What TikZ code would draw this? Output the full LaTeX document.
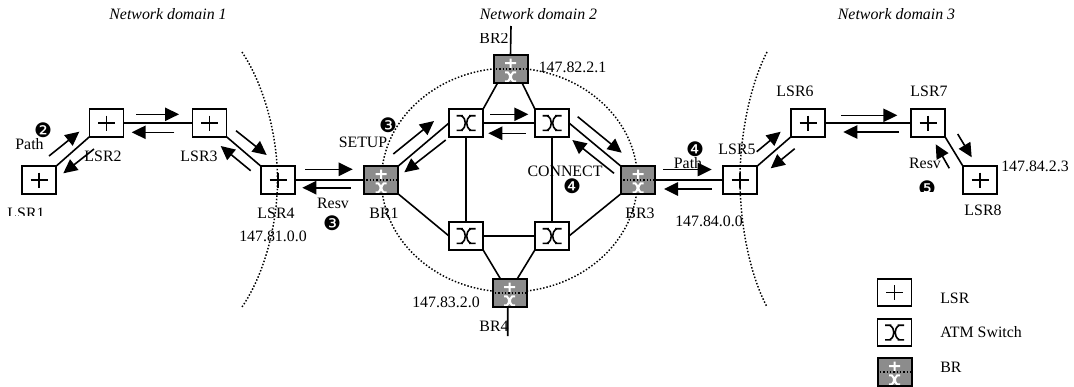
\documentclass[tikz,border=0pt]{standalone}
\usepackage{fontspec}
\setmainfont{Liberation Serif}
\newfontfamily\dingfont{DejaVu Sans}
\usetikzlibrary{arrows.meta}
\definecolor{brgray}{HTML}{8C8C8C}
\newcommand{\lsrglyph}{\draw[line width=1.2pt,line cap=butt] (-8.5,0) -- (8.5,0) (0,-7.5) -- (0,7.5);}
\newcommand{\atmglyph}{\draw[black,line width=1.2pt,line cap=butt]
  (-9.5,-7.3) -- (-3.2,-7.3) (-9.5,7.3) -- (-3.2,7.3) (9.5,-7.3) -- (3.2,-7.3) (9.5,7.3) -- (3.2,7.3)
  (-4.8,-7.3) .. controls (-1.6,-5.5) and (-0.7,-2.5) .. (-0.7,0) .. controls (-0.7,2.5) and (-1.6,5.5) .. (-4.8,7.3)
  (4.8,-7.3) .. controls (1.6,-5.5) and (0.7,-2.5) .. (0.7,0) .. controls (0.7,2.5) and (1.6,5.5) .. (4.8,7.3);}
\newcommand{\brglyph}{\draw[white,line width=1.5pt,line cap=butt]
  (-5.5,-5.8) -- (5.5,-5.8) (0,-10.5) -- (0,-1.2)
  (-5.5,3.4) -- (-1.8,3.4) (5.5,3.4) -- (1.8,3.4) (-5.5,12.4) -- (-1.8,12.4) (5.5,12.4) -- (1.8,12.4)
  (-2.8,3.4) .. controls (-1,4.6) and (-0.5,6.4) .. (-0.5,7.9) .. controls (-0.5,9.4) and (-1,11.2) .. (-2.8,12.4)
  (2.8,3.4) .. controls (1,4.6) and (0.5,6.4) .. (0.5,7.9) .. controls (0.5,9.4) and (1,11.2) .. (2.8,12.4);
  \draw[black,dotdash] (-18,0) -- (18,0);}
\tikzset{
  boxbase/.style={draw=black,line width=1.3pt,minimum width=25.5pt,minimum height=20.6pt,inner sep=0pt,outer sep=0pt},
  lsrbox/.style={boxbase,fill=white,path picture={\begin{scope}[shift={(path picture bounding box.center)}]\lsrglyph\end{scope}}},
  atmbox/.style={boxbase,fill=white,path picture={\begin{scope}[shift={(path picture bounding box.center)}]\atmglyph\end{scope}}},
  brbox/.style={boxbase,line width=1.5pt,fill=brgray,path picture={\begin{scope}[shift={(path picture bounding box.center)}]\brglyph\end{scope}}},
  dotdash/.style={line width=1.1pt,dash pattern=on 1.1pt off 1.4pt},
  link/.style={draw=black,line width=1.2pt},
  flow/.style={draw=black,line width=1.2pt,-{Triangle[length=10.5pt,width=10pt]}},
  lbl/.style={font=\fontsize{11.9pt}{13pt}\selectfont,inner sep=0pt,text=black},
  dom/.style={lbl,font=\fontsize{11.9pt}{13pt}\selectfont\itshape},
  num/.style={inner sep=0pt,font=\dingfont\fontsize{15pt}{16pt}\selectfont,text=black},
}
\begin{document}
\begin{tikzpicture}[x=0.75pt,y=-0.75pt]
\useasboundingbox (0,0) rectangle (1074,386);
% central dotted domain
\draw[dotdash] (509.5,180) ellipse [x radius=128,y radius=112];
% boxes
\node[lsrbox] (LSR1) at (39,180) {};
\node[lsrbox] (LSR2) at (106.5,123) {};
\node[lsrbox] (LSR3) at (209.5,123) {};
\node[lsrbox] (LSR4) at (278,180) {};
\node[brbox] (BR1) at (381,180) {};
\node[brbox] (BR2) at (510.5,69) {};
\node[brbox] (BR3) at (638,180) {};
\node[brbox] (BR4) at (509.5,293) {};
\node[atmbox] (X1) at (466,123) {};
\node[atmbox] (X2) at (552,123) {};
\node[atmbox] (X3) at (466,236) {};
\node[atmbox] (X4) at (552,236) {};
\node[lsrbox] (LSR5) at (740,180) {};
\node[lsrbox] (LSR6) at (808,123) {};
\node[lsrbox] (LSR7) at (928,123) {};
\node[lsrbox] (LSR8) at (980,180) {};
\node[lsrbox] (LegL) at (894.5,292.5) {};
\node[atmbox] (LegA) at (894.5,332.5) {};
\node[brbox] (LegB) at (894.5,372) {};
% free ends
\coordinate (BR2top) at (511,26);
\coordinate (BR4bot) at (507.7,336);
% links
\draw[link] (LSR1.north east) -- (LSR2.south west);
\draw[link] (LSR2.east) -- (LSR3.west);
\draw[link] (LSR3.south east) -- (LSR4.north west);
\draw[link] (LSR4.east) -- (BR1.west);
\draw[link] (BR1.north east) -- (X1.west);
\draw[link] (BR1.south east) -- (X3.west);
\draw[link] (X1.east) -- (X2.west);
\draw[link] (X3.east) -- (X4.west);
\draw[link] (X1.south) -- (X3.north);
\draw[link] (X2.south) -- (X4.north);
\draw[link] (X2.east) -- (BR3.north west);
\draw[link] (X4.east) -- (BR3.south west);
\draw[link] (X1.north east) -- ([xshift=-9.6pt]BR2.south);
\draw[link] (X2.north west) -- ([xshift=8.6pt]BR2.south);
\draw[link] (X3.south east) -- ([xshift=-6.6pt]BR4.north);
\draw[link] (X4.south west) -- ([xshift=5.6pt]BR4.north);
\draw[link] (BR2.north) -- (BR2top);
\draw[link] ([xshift=-1.3pt]BR4.south) -- (BR4bot);
\draw[link] (BR3.east) -- (LSR5.west);
\draw[link] (LSR5.north east) -- (LSR6.south west);
\draw[link] (LSR6.east) -- (LSR7.west);
\draw[link] (LSR7.south east) -- (LSR8.north west);
% domain arcs
\coordinate (ArcLa) at (242,52);
\coordinate (ArcLb) at (277.5,180);
\coordinate (ArcLc) at (242,307);
\coordinate (ArcRa) at (767,52);
\coordinate (ArcRb) at (740,180);
\coordinate (ArcRc) at (767,307);
\draw[dotdash] (ArcLa) .. controls (264,85) and (277.5,135) .. (ArcLb) .. controls (277.5,225) and (264,275) .. (ArcLc);
\draw[dotdash] (ArcRa) .. controls (750,85) and (740,135) .. (ArcRb) .. controls (740,225) and (750,275) .. (ArcRc);
% signalling arrows
\foreach \n/\a/\b/\c/\d in {
  1/49/156/79.3/131.7, 2/94/149/63.3/173.3, 3/136/114.3/179/114.3, 4/174.3/132.3/131.7/132.3,
  5/236/130.7/266.7/155, 6/250.7/170.7/220.7/146, 7/305/169.3/352.7/169.3, 8/350.7/187.7/302.3/187.7,
  9/393.3/154/434/121, 10/445.7/140/404.3/172.3, 11/490/114.3/528.3/114.3, 12/525.7/133.3/488.3/133.3,
  13/577.7/116.7/621.7/152.7, 14/614/173.3/572.3/140, 15/663.3/169.5/711.7/169.5, 16/711.7/189/664/189,
  17/756.7/151.7/780.7/131.7, 18/794.7/148.7/770.7/168.3, 19/841.3/115.3/897.3/115.3, 20/899/132/843.3/132,
  21/957.7/134/971.7/157.3, 22/949.3/168.3/935.7/144.3}{
  \coordinate (fs\n) at (\a,\b);
  \coordinate (fe\n) at (\c,\d);
  \draw[flow] (fs\n) -- (fe\n);
}
% headings
\node[dom] (D1) at (168,14) {Network domain 1};
\node[dom] (D2) at (538.5,14) {Network domain 2};
\node[dom] (D3) at (896.5,14) {Network domain 3};
% labels
\node[lbl] (tPath1) at (29.5,144) {Path};
\node[num] (n2) at (43,130) {❷};
\node[lbl] (tLSR2) at (103,156) {LSR2};
\node[lbl] (tLSR3) at (199,156) {LSR3};
\node[lbl] (tLSR4) at (276,213) {LSR4};
\node[lbl] (tA1) at (273,236) {147.81.0.0};
\node[lbl] (tResv1) at (333,203) {Resv};
\node[num] (n3a) at (332,223) {❸};
\node[lbl] (tSetup) at (363,142) {SETUP};
\node[num] (n3b) at (388,125.7) {❸};
\node[lbl] (tBR1) at (384,213) {BR1};
\node[lbl] (tBR3) at (640,213) {BR3};
\node[lbl] (tBR4) at (494,326) {BR4};
\node[lbl] (tA2) at (572.5,67) {147.82.2.1};
\node[lbl] (tA3) at (446,302) {147.83.2.0};
\node[lbl] (tConn) at (565,171) {CONNECT};
\node[num] (n4a) at (572,186.7) {❹};
\node[num] (n4b) at (695,149) {❹};
\node[lbl] (tPath2) at (688,163) {Path};
\node[lbl] (tLSR5) at (737,149) {LSR5};
\node[lbl] (tA4) at (709,221.6) {147.84.0.0};
\node[lbl] (tLSR7) at (929,91) {LSR7};
\node[lbl] (tResv2) at (925,163) {Resv};
\node[lbl] (tLSR8) at (983,210) {LSR8};
\node[lbl] (tA5) at (1035,166) {147.84.2.3};
\node[lbl,anchor=west] (tLegL) at (940,298) {LSR};
\node[lbl,anchor=west] (tLegA) at (940,332) {ATM Switch};
\node[lbl,anchor=west] (tLegB) at (940,367) {BR};
% labels cut off in the reference
\begin{scope}
  \clip (0,200) rectangle (60,215);
  \node[lbl] (tLSR1) at (26,213) {LSR1};
\end{scope}
\begin{scope}
  \clip (470,33) rectangle (512,50);
  \node[lbl] (tBR2) at (494,38) {BR2};
\end{scope}
\begin{scope}
  \clip (770,80) rectangle (825,95);
  \node[lbl] (tLSR6) at (795,91) {LSR6};
\end{scope}
\begin{scope}
  \clip (915,175) rectangle (940,191.5);
  \node[num] (n5) at (927,188) {❺};
\end{scope}
\end{tikzpicture}
\end{document}
